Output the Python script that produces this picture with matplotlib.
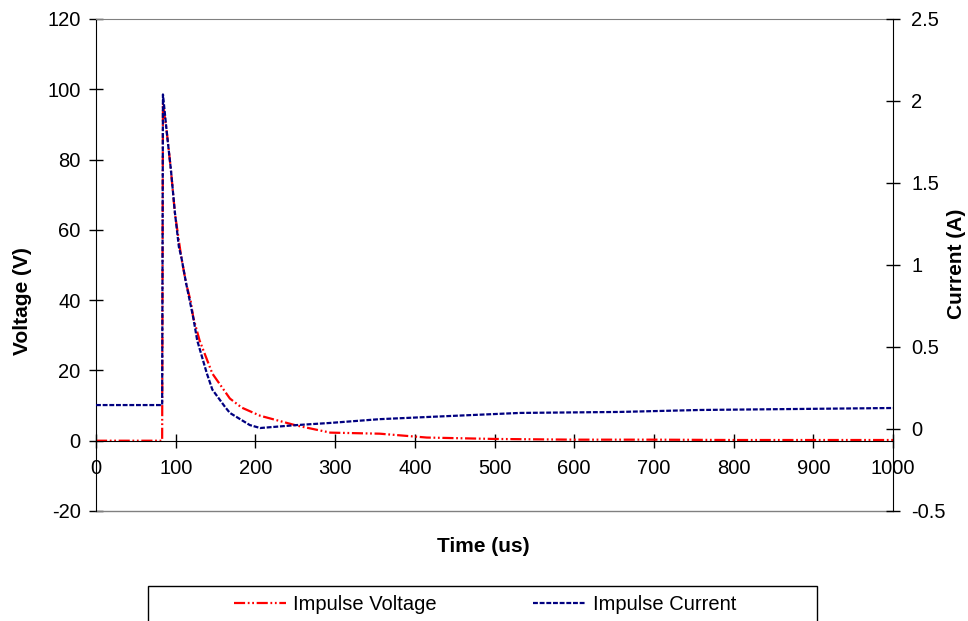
import matplotlib
matplotlib.use('Agg')
import matplotlib.pyplot as plt
from matplotlib.patches import Rectangle

plt.rcParams['font.family'] = ['Liberation Sans', 'DejaVu Sans']
plt.rcParams['axes.unicode_minus'] = False

# values
time_v = [0, 40, 83, 84, 89, 94, 99, 107, 113, 119, 122, 130, 146, 168, 183, 206, 252, 294, 356, 415, 500, 600, 700, 800, 900, 1000]
voltage = [0, 0, 0, 96, 87.5, 77, 64.7, 52.2, 44.8, 39.5, 35.1, 28.5, 19.1, 12.0, 9.4, 7.1, 4.3, 2.3, 2.0, 0.9, 0.5, 0.3, 0.3, 0.2, 0.2, 0.2]

time_i = [0, 40, 83, 84, 89, 94, 99, 104, 107, 113, 122, 127, 139, 146, 162, 168, 193, 206, 252, 294, 356, 415, 532, 657, 758, 1000]
current = [0.146, 0.146, 0.146, 2.04, 1.80, 1.58, 1.32, 1.11, 1.05, 0.89, 0.68, 0.54, 0.34, 0.24, 0.134, 0.098, 0.024, 0.006, 0.024, 0.037, 0.06, 0.073, 0.098, 0.104, 0.116, 0.128]

x_ticks = list(range(0, 1001, 100))
v_ticks = list(range(-20, 121, 20))
i_ticks = [-0.5, 0, 0.5, 1, 1.5, 2, 2.5]
i_labels = ['-0.5', '0', '0.5', '1', '1.5', '2', '2.5']

W, H = 968, 621
fig = plt.figure(figsize=(W / 100, H / 100), dpi=100)
ax = fig.add_axes([96 / W, 1 - 511 / H, (893 - 96) / W, (511 - 19) / H])
ax2 = ax.twinx()

l1, = ax.plot(time_v, voltage, color='#FF0000', lw=1.6,
              dashes=(5, 1.2, 0.8, 1.2, 0.8, 1.2), label='Impulse Voltage')
l2, = ax2.plot(time_i, current, color='#000080', lw=1.6,
               dashes=(2.2, 0.8), label='Impulse Current')

ax.set_xlim(0, 1000)
ax.set_ylim(-20, 120)
ax2.set_ylim(-0.5, 2.5)

ax.set_xticks(x_ticks)
ax.set_yticks(v_ticks)
ax2.set_yticks(i_ticks)
ax2.set_yticklabels(i_labels)

# x axis crosses at 0 V, gray border elsewhere
ax.spines['bottom'].set_position(('data', 0))
ax.spines['bottom'].set_color('black')
ax.spines['top'].set_color('#808080')
ax.spines['right'].set_visible(False)
ax.axhline(-20, color='#808080', lw=1, clip_on=False)
for s in ['left', 'top', 'bottom']:
    ax2.spines[s].set_visible(False)
ax2.spines['right'].set_color('black')

ax.tick_params(axis='x', direction='inout', length=10, width=1, pad=8.5, labelsize=14.5)
ax.tick_params(axis='y', direction='inout', length=10, width=1, pad=6, labelsize=14.5)
ax2.tick_params(axis='y', direction='inout', length=10, width=1, pad=8, labelsize=14.5)

fig.text(23 / W, 1 - 301 / H, 'Voltage (V)', rotation=90, ha='center', va='center',
         fontsize=15, fontweight='bold')
fig.text(957 / W, 1 - 264 / H, 'Current (A)', rotation=90, ha='center', va='center',
         fontsize=15, fontweight='bold')
fig.text(483 / W, 1 - 546 / H, 'Time (us)', ha='center', va='center',
         fontsize=15, fontweight='bold')

# legend box, cut off at the bottom like the original
fig.patches.append(Rectangle((148 / W, -0.05), (817 - 148) / W, 0.05 + 1 - 586 / H,
                             transform=fig.transFigure, fill=False,
                             edgecolor='black', lw=1))
fig.legend([l1, l2], ['Impulse Voltage', 'Impulse Current'], loc='center',
           bbox_to_anchor=(485 / W, 1 - 605 / H), ncol=2, frameon=False,
           columnspacing=4.8, handlelength=2.6, handletextpad=0.35, fontsize=14.5)

fig.savefig('out.png', dpi=100)
